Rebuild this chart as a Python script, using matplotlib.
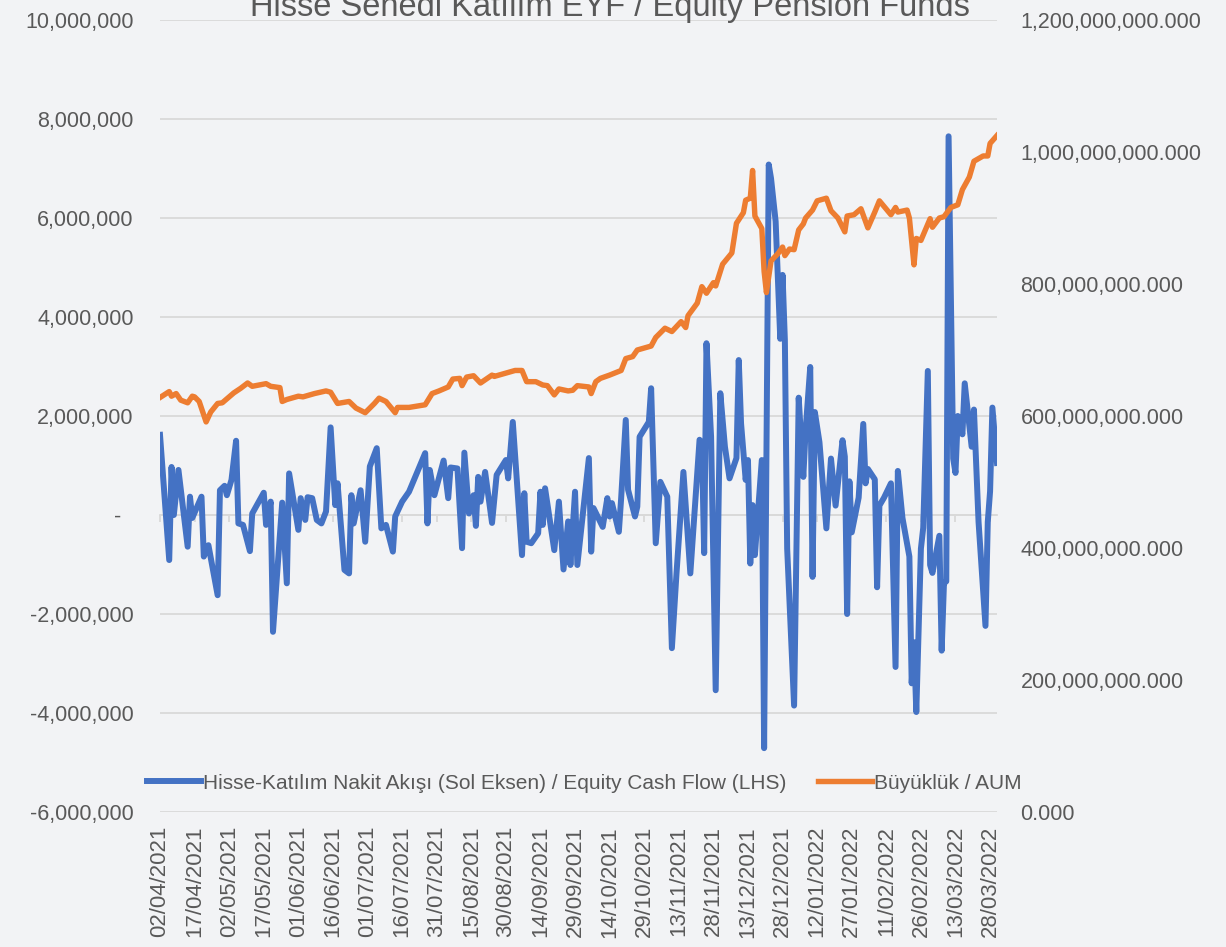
import matplotlib
matplotlib.use("Agg")
import matplotlib.pyplot as plt
from matplotlib.ticker import FuncFormatter, MultipleLocator
import pandas as pd

plt.rcParams["font.family"] = ["Liberation Sans Narrow", "Liberation Sans", "DejaVu Sans"]

TITLE = "Hisse Senedi Katılım EYF / Equity Pension Funds"
LBL_FLOW = "Hisse-Katılım Nakit Akışı (Sol Eksen) / Equity Cash Flow (LHS)"
LBL_AUM = "Büyüklük / AUM"

# equity cash flow, millions (left axis)
flow_dates = [
    "2021-04-02", "2021-04-06", "2021-04-07", "2021-04-08", "2021-04-10", "2021-04-14",
    "2021-04-15", "2021-04-16", "2021-04-20", "2021-04-21", "2021-04-23", "2021-04-27",
    "2021-04-28", "2021-04-30", "2021-05-01", "2021-05-03", "2021-05-05", "2021-05-06",
    "2021-05-08", "2021-05-11", "2021-05-12", "2021-05-17", "2021-05-18", "2021-05-20",
    "2021-05-21", "2021-05-25", "2021-05-27", "2021-05-28", "2021-06-01", "2021-06-02",
    "2021-06-04", "2021-06-05", "2021-06-07", "2021-06-09", "2021-06-11", "2021-06-13",
    "2021-06-15", "2021-06-17", "2021-06-18", "2021-06-21", "2021-06-23", "2021-06-24",
    "2021-06-25", "2021-06-28", "2021-06-30", "2021-07-02", "2021-07-05", "2021-07-07",
    "2021-07-09", "2021-07-12", "2021-07-13", "2021-07-16", "2021-07-19", "2021-07-26",
    "2021-07-27", "2021-07-28", "2021-07-30", "2021-08-03", "2021-08-05", "2021-08-06",
    "2021-08-09", "2021-08-11", "2021-08-12", "2021-08-14", "2021-08-16", "2021-08-17",
    "2021-08-18", "2021-08-19", "2021-08-21", "2021-08-24", "2021-08-26", "2021-08-30",
    "2021-08-31", "2021-09-02", "2021-09-06", "2021-09-07", "2021-09-08", "2021-09-10",
    "2021-09-13", "2021-09-14", "2021-09-15", "2021-09-16", "2021-09-20", "2021-09-22",
    "2021-09-24", "2021-09-26", "2021-09-27", "2021-09-29", "2021-09-30", "2021-10-05",
    "2021-10-06", "2021-10-07", "2021-10-11", "2021-10-13", "2021-10-14", "2021-10-15",
    "2021-10-18", "2021-10-19", "2021-10-21", "2021-10-22", "2021-10-25", "2021-10-26",
    "2021-10-27", "2021-10-31", "2021-11-01", "2021-11-03", "2021-11-05", "2021-11-08",
    "2021-11-10", "2021-11-12", "2021-11-15", "2021-11-18", "2021-11-22", "2021-11-23",
    "2021-11-24", "2021-11-25", "2021-11-27", "2021-11-29", "2021-12-01", "2021-12-03",
    "2021-12-05", "2021-12-08", "2021-12-09", "2021-12-10", "2021-12-12", "2021-12-13",
    "2021-12-14", "2021-12-15", "2021-12-16", "2021-12-19", "2021-12-20", "2021-12-22",
    "2021-12-23", "2021-12-25", "2021-12-27", "2021-12-28", "2021-12-29", "2021-12-30",
    "2022-01-02", "2022-01-04", "2022-01-06", "2022-01-07", "2022-01-09", "2022-01-10",
    "2022-01-11", "2022-01-13", "2022-01-16", "2022-01-18", "2022-01-20", "2022-01-23",
    "2022-01-24", "2022-01-25", "2022-01-26", "2022-01-27", "2022-01-30", "2022-02-01",
    "2022-02-02", "2022-02-03", "2022-02-06", "2022-02-07", "2022-02-08", "2022-02-10",
    "2022-02-13", "2022-02-15", "2022-02-16", "2022-02-18", "2022-02-21", "2022-02-22",
    "2022-02-23", "2022-02-24", "2022-02-26", "2022-02-27", "2022-03-01", "2022-03-02",
    "2022-03-03", "2022-03-06", "2022-03-07", "2022-03-08", "2022-03-09", "2022-03-10",
    "2022-03-12", "2022-03-13", "2022-03-14", "2022-03-16", "2022-03-17", "2022-03-20",
    "2022-03-21", "2022-03-23", "2022-03-26", "2022-03-27", "2022-03-28", "2022-03-29",
    "2022-03-31",
]
flow_mn = [
    1.62, -0.91, 0.97, 0.00, 0.91, -0.64,
    0.37, -0.06, 0.37, -0.84, -0.61, -1.62,
    0.50, 0.59, 0.40, 0.71, 1.50, -0.17,
    -0.20, -0.73, 0.03, 0.45, -0.20, 0.27,
    -2.36, 0.25, -1.38, 0.84, -0.30, 0.34,
    -0.10, 0.36, 0.34, -0.10, -0.17, 0.07,
    1.77, 0.20, 0.64, -1.11, -1.18, 0.40,
    -0.17, 0.50, -0.54, 0.98, 1.35, -0.27,
    -0.20, -0.74, -0.03, 0.27, 0.47, 1.25,
    -0.17, 0.91, 0.40, 1.10, 0.34, 0.96,
    0.94, -0.67, 1.26, 0.03, 0.40, -0.22,
    0.77, 0.27, 0.87, -0.16, 0.81, 1.11,
    0.74, 1.88, -0.81, 0.44, -0.54, -0.57,
    -0.37, 0.47, -0.20, 0.54, -0.71, 0.27,
    -1.10, -0.13, -1.01, 0.47, -1.01, 1.15,
    -0.74, 0.14, -0.24, 0.34, -0.03, 0.24,
    -0.34, 0.34, 1.92, 0.51, -0.03, 0.17,
    1.58, 1.88, 2.56, -0.57, 0.67, 0.37,
    -2.69, -1.18, 0.87, -1.18, 1.52, 1.45,
    -0.77, 3.47, 1.58, -3.54, 2.46, 1.38,
    0.74, 1.15, 3.13, 1.85, 0.71, 1.11,
    -0.98, 0.20, -0.81, 1.11, -4.71, 7.08,
    6.80, 5.93, 3.56, 4.85, 3.53, -0.68,
    -3.85, 2.37, 0.77, 1.71, 2.99, -1.25,
    2.08, 1.47, -0.27, 1.14, 0.19, 1.51,
    1.18, -2.00, 0.68, -0.35, 0.35, 1.84,
    0.64, 0.93, 0.72, -1.46, 0.19, 0.35,
    0.64, -3.07, 0.89, -0.06, -0.84, -3.40,
    -2.57, -3.98, -0.68, -0.26, 2.91, -1.01,
    -1.17, -0.42, -2.74, -1.38, -1.34, 7.65,
    1.14, 0.85, 2.00, 1.63, 2.66, 1.38,
    2.13, -0.14, -2.24, -0.14, 0.48, 2.17,
    1.05,
]

# assets under management, millions (right axis)
aum_dates = [
    "2021-04-02", "2021-04-06", "2021-04-07", "2021-04-09", "2021-04-11", "2021-04-14",
    "2021-04-16", "2021-04-17", "2021-04-19", "2021-04-22", "2021-04-24", "2021-04-27",
    "2021-04-29", "2021-05-04", "2021-05-07", "2021-05-10", "2021-05-12", "2021-05-18",
    "2021-05-20", "2021-05-24", "2021-05-25", "2021-05-27", "2021-06-01", "2021-06-03",
    "2021-06-08", "2021-06-13", "2021-06-15", "2021-06-18", "2021-06-23", "2021-06-26",
    "2021-06-30", "2021-07-04", "2021-07-06", "2021-07-09", "2021-07-13", "2021-07-14",
    "2021-07-19", "2021-07-26", "2021-07-29", "2021-08-01", "2021-08-05", "2021-08-07",
    "2021-08-10", "2021-08-11", "2021-08-13", "2021-08-16", "2021-08-19", "2021-08-24",
    "2021-08-25", "2021-08-30", "2021-09-03", "2021-09-06", "2021-09-08", "2021-09-12",
    "2021-09-15", "2021-09-17", "2021-09-20", "2021-09-22", "2021-09-26", "2021-09-28",
    "2021-09-30", "2021-10-05", "2021-10-06", "2021-10-08", "2021-10-10", "2021-10-14",
    "2021-10-19", "2021-10-21", "2021-10-24", "2021-10-26", "2021-11-01", "2021-11-03",
    "2021-11-07", "2021-11-10", "2021-11-14", "2021-11-16", "2021-11-17", "2021-11-21",
    "2021-11-23", "2021-11-25", "2021-11-28", "2021-11-29", "2021-12-02", "2021-12-06",
    "2021-12-08", "2021-12-11", "2021-12-12", "2021-12-14", "2021-12-15", "2021-12-16",
    "2021-12-19", "2021-12-20", "2021-12-21", "2021-12-23", "2021-12-26", "2021-12-28",
    "2021-12-29", "2021-12-31", "2022-01-02", "2022-01-04", "2022-01-06", "2022-01-07",
    "2022-01-10", "2022-01-12", "2022-01-16", "2022-01-18", "2022-01-21", "2022-01-24",
    "2022-01-25", "2022-01-28", "2022-01-31", "2022-02-03", "2022-02-06", "2022-02-08",
    "2022-02-13", "2022-02-15", "2022-02-16", "2022-02-20", "2022-02-21", "2022-02-23",
    "2022-02-24", "2022-02-26", "2022-03-02", "2022-03-03", "2022-03-06", "2022-03-08",
    "2022-03-11", "2022-03-14", "2022-03-16", "2022-03-19", "2022-03-21", "2022-03-23",
    "2022-03-25", "2022-03-27", "2022-03-28", "2022-03-31",
]
aum_mn = [
    628, 637, 630, 634, 624, 620,
    630, 629, 622, 591, 606, 619,
    620, 635, 642, 650, 645, 649,
    645, 643, 622, 625, 630, 629,
    634, 638, 636, 619, 622, 612,
    605, 619, 627, 622, 605, 613,
    613, 617, 634, 638, 644, 656,
    657, 646, 659, 661, 650, 662,
    660, 665, 669, 669, 652, 652,
    647, 646, 632, 641, 638, 639,
    646, 644, 634, 652, 657, 662,
    669, 687, 690, 700, 706, 719,
    733, 728, 743, 734, 752, 771,
    796, 786, 802, 797, 830, 847,
    892, 908, 927, 930, 972, 903,
    884, 819, 787, 835, 846, 856,
    843, 853, 852, 882, 891, 900,
    912, 926, 930, 911, 900, 879,
    903, 905, 914, 885, 909, 926,
    905, 916, 909, 912, 900, 829,
    869, 866, 899, 886, 900, 902,
    916, 920, 943, 962, 986, 990,
    994, 994, 1013, 1025,
]

BLUE = "#4472C4"
ORANGE = "#ED7D31"
TXT = "#595959"
GRID = "#D9D9D9"
BG = "#F2F3F5"

fig = plt.figure(figsize=(12.26, 9.47), dpi=100, facecolor=BG)
ax = fig.add_axes([160 / 1226, 1 - 812 / 947, 837 / 1226, 792 / 947])
ax.set_facecolor("none")
ax2 = ax.twinx()

fd = pd.to_datetime(flow_dates)
ad = pd.to_datetime(aum_dates)
l1, = ax.plot(fd, [v * 1e6 for v in flow_mn], color=BLUE, lw=4.3,
              solid_joinstyle="round", label=LBL_FLOW, zorder=3)
l2, = ax2.plot(ad, [v * 1e6 for v in aum_mn], color=ORANGE, lw=3.9,
               solid_joinstyle="round", label=LBL_AUM, zorder=3)

ax.set_ylim(-6e6, 10e6)
ax2.set_ylim(0, 1.2e9)
ax.yaxis.set_major_locator(MultipleLocator(2e6))
ax2.yaxis.set_major_locator(MultipleLocator(2e8))
ax.yaxis.set_major_formatter(FuncFormatter(lambda v, p: "-  " if abs(v) < 1 else f"{v:,.0f}"))
ax2.yaxis.set_major_formatter(FuncFormatter(lambda v, p: f"{v:,.3f}"))
ax.grid(axis="y", color=GRID, lw=1.3)
ax.set_axisbelow(True)

start = pd.Timestamp("2021-04-02")
ax.set_xlim(start, pd.Timestamp("2022-03-31"))
ticks = pd.date_range(start, periods=25, freq="15D")

# horizontal axis drawn at zero, labels at the bottom
ax.spines["bottom"].set_position(("data", 0))
ax.spines["bottom"].set_color(GRID)
ax.spines["bottom"].set_linewidth(1.3)
ax.set_xticks(ticks)
ax.tick_params(axis="x", direction="out", length=5, color=GRID, width=1.3, labelbottom=False)
sec = ax.secondary_xaxis("bottom")
sec.set_xticks(ticks)
sec.set_xticklabels([t.strftime("%d/%m/%Y") for t in ticks], rotation=90)
sec.tick_params(axis="x", length=0, pad=10, labelsize=16, labelcolor=TXT)
sec.spines["bottom"].set_visible(False)

for a in (ax, ax2):
    for s in ("top", "left", "right"):
        a.spines[s].set_visible(False)
ax2.spines["bottom"].set_visible(False)
ax.tick_params(axis="y", length=0, pad=19, labelsize=15.5, labelcolor=TXT)
ax2.tick_params(axis="y", length=0, pad=17, labelsize=15.5, labelcolor=TXT)

fig.text(610 / 1226, 1 - 16 / 947, TITLE, ha="center", va="baseline",
         fontsize=23.5, color=TXT)

fig.legend(handles=[l1, l2], loc="center", bbox_to_anchor=(584 / 1226, 1 - 783 / 947),
           ncol=2, frameon=False, fontsize=15, labelcolor=TXT,
           handlelength=2.6, handletextpad=0.1, columnspacing=1.5)

fig.savefig("out.png", dpi=100, facecolor=BG)
